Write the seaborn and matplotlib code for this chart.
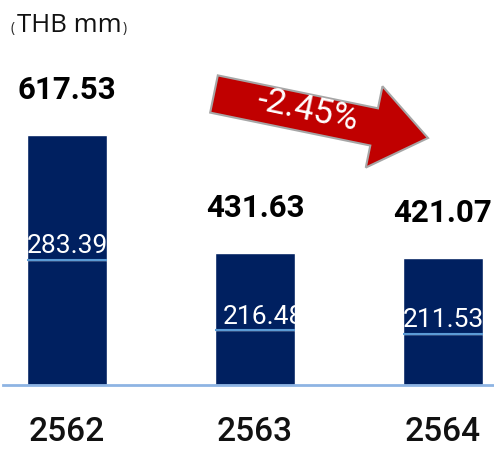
import matplotlib
matplotlib.use("Agg")
import matplotlib.pyplot as plt
import seaborn as sns
from matplotlib.patches import FancyArrow
from matplotlib.transforms import IdentityTransform

# Data shown on the chart
years = ["2562", "2563", "2564"]
totals = [617.53, 431.63, 421.07]
lower_values = [283.39, 216.48, 211.53]
change_label = "-2.45%"
unit_label = "THB mm"

# Bar heights as drawn in the source graphic (it is not to scale with its labels)
drawn_totals = [617.5, 325.5, 313.1]
drawn_lower = [308.2, 133.7, 125.0]

NAVY = "#002060"
SPLIT = "#5B9BD5"
AXIS = "#8EB4E3"
RED = "#C00000"

sns.set_style("white")
plt.rcParams["font.family"] = ["Roboto", "DejaVu Sans"]

W, H = 494, 450
fig = plt.figure(figsize=(W / 100, H / 100), dpi=100)
ax = fig.add_axes([3 / W, 65.5 / H, 491 / W, 324.5 / H])

bar_w = 80 / 188
sns.barplot(x=years, y=drawn_totals, color=NAVY, saturation=1, width=bar_w,
            errorbar=None, ax=ax)
bars = list(ax.patches)
sns.barplot(x=years, y=drawn_lower, color=NAVY, saturation=1, width=bar_w,
            errorbar=None, ax=ax)

ax.set_xlim(-64 / 188, -64 / 188 + 491 / 188)
ax.set_ylim(0, 617.53 * 324.5 / 249.5)

# thin split line between the two segments
xs = range(len(years))
ax.hlines(drawn_lower, [x - bar_w / 2 for x in xs], [x + bar_w / 2 for x in xs],
          color=SPLIT, lw=1.5, zorder=3)

# totals above bars
for i, v in enumerate(totals):
    ax.annotate(f"{v:.2f}", xy=(i, drawn_totals[i]), xytext=(0, 26),
                textcoords="offset points", ha="center", va="baseline",
                fontsize=22.5, fontweight="bold", color="black")

# lower segment labels inside bars
inner_dx = [0, 6, 0]
for i, v in enumerate(lower_values):
    t = ax.annotate(f"{v:.2f}", xy=(i, drawn_lower[i]), xytext=(inner_dx[i], 5),
                    textcoords="offset points", ha="center", va="baseline",
                    fontsize=19, color="white", zorder=4)
    t.set_clip_path(bars[i])

for s in ["top", "right", "left"]:
    ax.spines[s].set_visible(False)
ax.spines["bottom"].set_color(AXIS)
ax.spines["bottom"].set_linewidth(2)
ax.set_yticks([])
ax.set_xlabel("")
ax.set_ylabel("")
ax.set_xticks(range(len(years)), years)
ax.tick_params(axis="x", length=0, pad=23, labelsize=24, labelcolor="#111111")
for lab in ax.get_xticklabels():
    lab.set_fontweight("medium")

# unit label with small parentheses
ofont = ["Open Sans", "DejaVu Sans"]
main = fig.text(17 / W, 1 - 32 / H, unit_label, fontsize=18.5, family=ofont,
                ha="left", va="baseline", color="#111111")
fig.text(10 / W, 1 - 32 / H, "(", fontsize=10, family=ofont,
         ha="left", va="baseline")
fig.canvas.draw()
bb = main.get_window_extent()
fig.text((bb.x1 + 1) / W, 1 - 32 / H, ")", fontsize=10, family=ofont,
         ha="left", va="baseline")

# red change arrow
arrow = FancyArrow(214, H - 94, 214, -44, width=38, head_width=83, head_length=55,
                   length_includes_head=True, fc=RED, ec="#A6A6A6", lw=1.5,
                   transform=IdentityTransform())
fig.add_artist(arrow)
fig.text(308 / W, 1 - 110 / H, change_label, rotation=-12, ha="center", va="center",
         color="white", fontsize=25, rotation_mode="anchor")

fig.savefig("out.png", dpi=100)
